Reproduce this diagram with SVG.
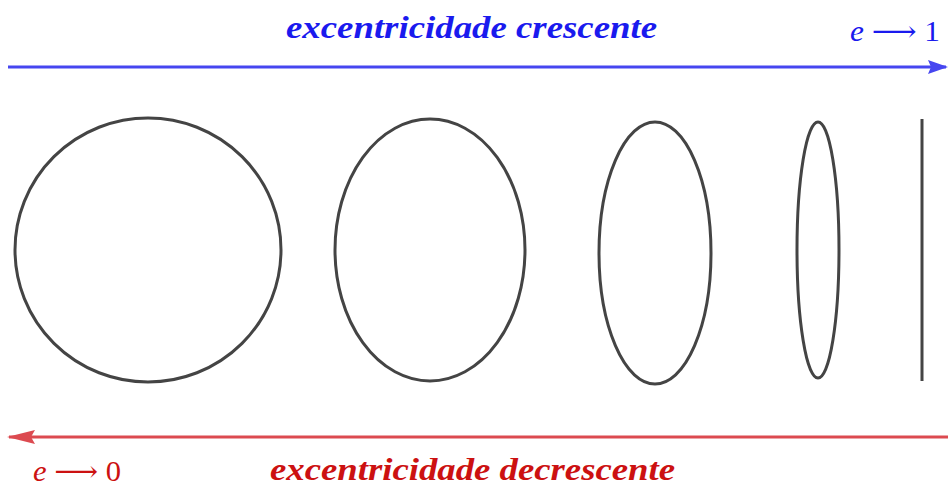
<svg xmlns="http://www.w3.org/2000/svg" width="948" height="486" viewBox="0 0 948 486">
<style>
.sh{fill:none;stroke:#444;stroke-width:3}
.t{font-family:"Liberation Serif","Times New Roman",Times,serif;font-style:italic;font-weight:bold;font-size:31px}
.m{font-family:"Liberation Serif","DejaVu Serif",serif;font-size:29px}
</style>
<defs>
<marker id="ab" markerWidth="20" markerHeight="14" refX="18" refY="7" orient="auto" markerUnits="userSpaceOnUse"><path d="M0,0 L20,7 L0,14 L3,7 Z" fill="#4646f0"/></marker>
<marker id="ar" markerWidth="28" markerHeight="14" refX="26" refY="7" orient="auto" markerUnits="userSpaceOnUse"><path d="M0,0 L28,7 L0,14 L4,7 Z" fill="#dc4a50"/></marker>
</defs>
<rect width="948" height="486" fill="#fff"/>
<g id="connectors">
<line x1="8" y1="67" x2="946" y2="67" stroke="#4646f0" stroke-width="3" marker-end="url(#ab)"/>
<line x1="948" y1="437" x2="9" y2="437" stroke="#dc4a50" stroke-width="3" marker-end="url(#ar)"/>
</g>
<g id="label-top">
<text class="t" x="286" y="38" fill="#1a1aee" textLength="371" lengthAdjust="spacingAndGlyphs">excentricidade crescente</text>
<text class="m" x="850" y="41" fill="#1a1aee" textLength="90" lengthAdjust="spacingAndGlyphs"><tspan font-style="italic">e</tspan> ⟶ 1</text>
</g>
<g id="label-bottom">
<text class="t" x="270" y="480" fill="#cc1111" textLength="405" lengthAdjust="spacingAndGlyphs">excentricidade decrescente</text>
<text class="m" x="33" y="481" fill="#cc1111" textLength="88" lengthAdjust="spacingAndGlyphs"><tspan font-style="italic">e</tspan> ⟶ 0</text>
</g>
<g id="e0"><ellipse class="sh" cx="148" cy="250" rx="133" ry="132"/></g>
<g id="e1"><ellipse class="sh" cx="430" cy="250" rx="95" ry="131"/></g>
<g id="e2"><ellipse class="sh" cx="655" cy="253" rx="56" ry="131"/></g>
<g id="e3"><ellipse class="sh" cx="818" cy="250" rx="21" ry="128"/></g>
<g id="e4"><line class="sh" x1="922" y1="119" x2="922" y2="381"/></g>
</svg>
